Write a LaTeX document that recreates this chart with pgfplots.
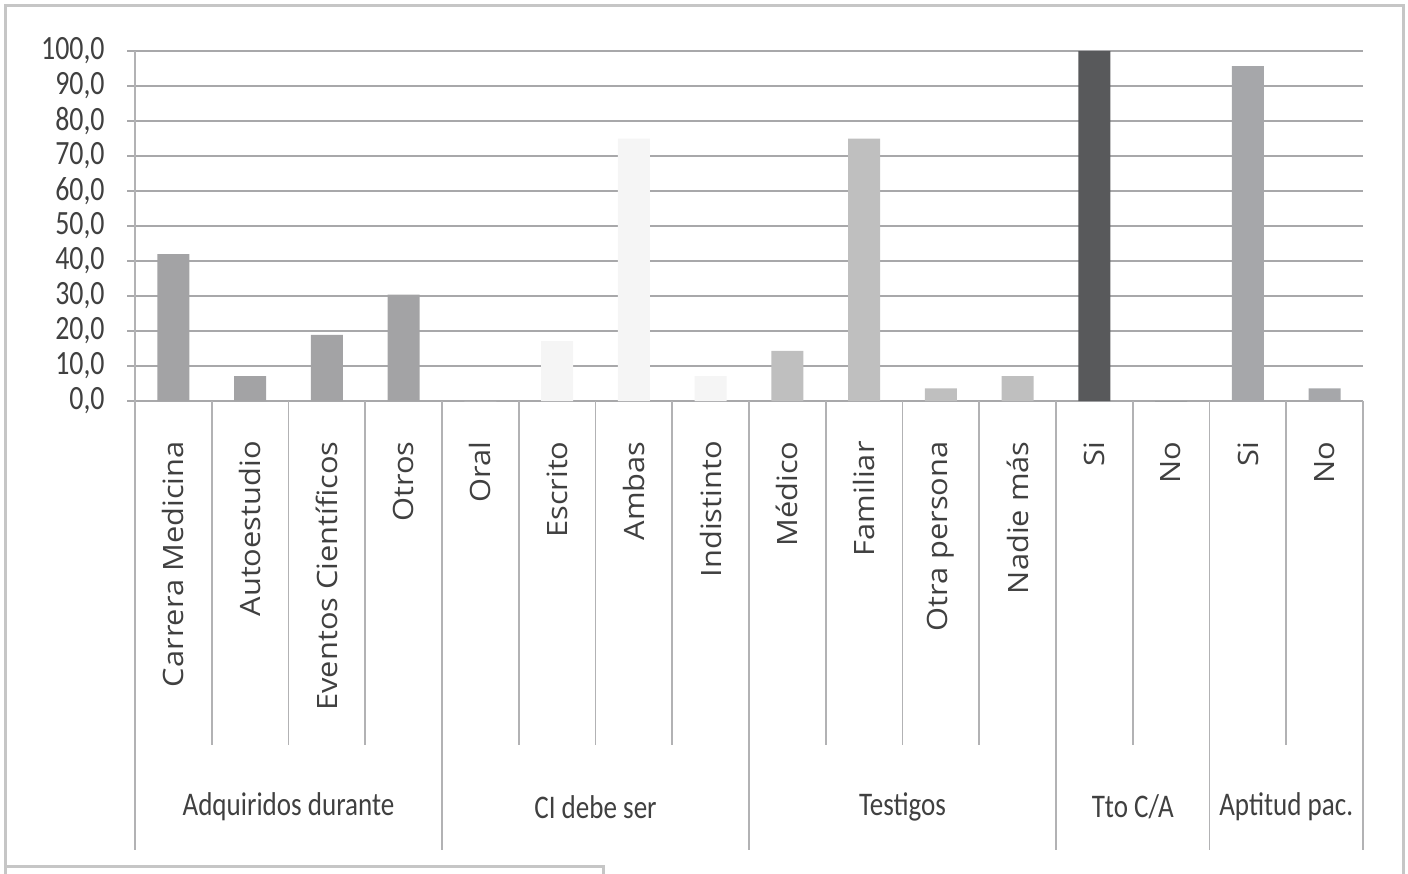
\documentclass[border=0pt]{standalone}
\usepackage{fontspec}
\setmainfont{Carlito}
\newfontfamily\osans{Open Sans}
\usepackage{graphicx}
\usepackage{pgfplots}
\pgfplotsset{compat=1.18}

\definecolor{gridgray}{HTML}{A8A8AA}
\definecolor{sepgray}{HTML}{B2B2B4}
\definecolor{framegray}{HTML}{C6C6C6}
\definecolor{txt}{HTML}{404040}
\definecolor{cA}{HTML}{A3A3A5}
\definecolor{cB}{HTML}{F5F5F5}
\definecolor{cC}{HTML}{BFBFBF}
\definecolor{cD}{HTML}{58595B}
\definecolor{cE}{HTML}{A6A7AA}

\newcommand{\grp}[1]{\scalebox{0.82}[1]{#1}}
\newcommand{\cat}[1]{\scalebox{1.1}[1]{#1}}

\begin{document}
\begin{tikzpicture}
\useasboundingbox (0pt,0pt) rectangle (704pt,-436.5pt);
% chart frame
\draw[framegray, line width=1.5pt] (2.5pt,-440pt) -- (2.5pt,-2.5pt) -- (701.5pt,-2.5pt) -- (701.5pt,-440pt);
% box at the lower left
\draw[framegray, line width=1.5pt] (2.5pt,-440pt) -- (2.5pt,-433pt) -- (301.5pt,-433pt) -- (301.5pt,-440pt);

\begin{axis}[
  at={(67.5pt,-200.5pt)}, anchor=south west,
  scale only axis, width=614pt, height=175pt,
  clip=false,
  xmin=-0.5, xmax=15.5, ymin=0, ymax=100,
  axis line style={draw=none},
  ybar, bar width=16pt, bar shift=0pt,
  ymajorgrids, grid style={gridgray, line width=1.1pt},
  ytick={0,10,...,100},
  ytick pos=left, tick align=outside, major tick length=4pt,
  ytick style={gridgray, line width=1.1pt},
  /pgf/number format/.cd, fixed, fixed zerofill, precision=1, use comma, assume math mode=true,
  /pgfplots/.cd,
  yticklabel={\grp{\pgfmathprintnumber{\tick}}},
  yticklabel style={font=\fontsize{17}{17}\selectfont, text=txt, inner sep=0pt, xshift=-11pt},
  xtick={0,...,15},
  xtick style={draw=none},
  xticklabels={\cat{Carrera Medicina}, \cat{Autoestudio}, \cat{Eventos Científicos}, \cat{Otros}, \cat{Oral}, \cat{Escrito}, \cat{Ambas}, \cat{Indistinto}, \cat{Médico}, \cat{Familiar}, \cat{Otra persona}, \cat{Nadie más}, \cat{Si}, \cat{No}, \cat{Si}, \cat{No}},
  xticklabel style={rotate=90, anchor=east, inner sep=0pt, font=\osans\fontsize{14}{14}\selectfont, text=txt},
  xticklabel shift=16pt,
]
% Adquiridos durante
\addplot[fill=cA, draw=none] coordinates {(0,42.0) (1,7.1) (2,18.9) (3,30.4)};
% CI debe ser
\addplot[fill=cB, draw=none] coordinates {(4,0) (5,17.1) (6,75.0) (7,7.1)};
% Testigos
\addplot[fill=cC, draw=none] coordinates {(8,14.3) (9,75.0) (10,3.6) (11,7.1)};
% Tto C/A
\addplot[fill=cD, draw=none] coordinates {(12,100.0) (13,0)};
% Aptitud pac.
\addplot[fill=cE, draw=none] coordinates {(14,95.7) (15,3.6)};

% value axis line
\draw[sepgray, line width=0.9pt] (axis cs:-0.5,0) -- (axis cs:-0.5,100);
% separators between categories
\pgfplotsinvokeforeach{0.5,1.5,2.5,4.5,5.5,6.5,8.5,9.5,10.5,12.5,14.5}{
  \draw[sepgray, line width=0.9pt] (axis cs:#1,0) -- ++(0pt,-172pt);
}
% separators between groups
\pgfplotsinvokeforeach{-0.5,3.5,7.5,11.5,13.5,15.5}{
  \draw[sepgray, line width=0.9pt] (axis cs:#1,0) -- ++(0pt,-224.5pt);
}
% group names
\begin{scope}[every node/.style={font=\fontsize{16.5}{16.5}\selectfont, text=txt}]
\node[yshift=-203pt] at (axis cs:1.5,0) {\grp{Adquiridos durante}};
\node[yshift=-203pt] at (axis cs:5.5,0) {\grp{CI debe ser}};
\node[yshift=-203pt] at (axis cs:9.5,0) {\grp{Testigos}};
\node[yshift=-203pt] at (axis cs:12.5,0) {\grp{Tto C/A}};
\node[yshift=-203pt] at (axis cs:14.5,0) {\grp{Aptitud pac.}};
\end{scope}
\end{axis}
\end{tikzpicture}
\end{document}
